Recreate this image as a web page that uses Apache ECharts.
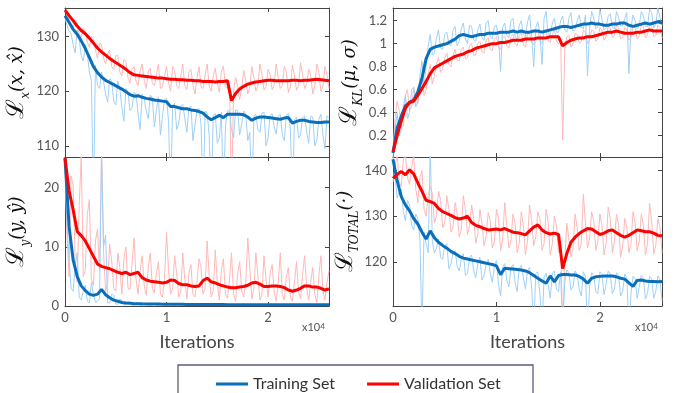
<!DOCTYPE html>
<html>
<head>
<meta charset="utf-8">
<script src="https://cdn.jsdelivr.net/npm/echarts@6/dist/echarts.min.js"></script>
<style>
  html, body { margin: 0; padding: 0; background: #fff; }
  #chart { width: 678px; height: 393px; }
</style>
</head>
<body>
<div id="chart"></div>
<script>
// iteration steps shared by every curve
const iters = [0,400,800,1200,1600,2000,2400,2800,3200,3600,
  4000,4400,4800,5200,5600,6000,6400,6800,7200,7600,
  8000,8400,8800,9200,9600,10000,10400,10800,11200,11600,
  12000,12400,12800,13200,13600,14000,14400,14800,15200,15600,
  16000,16400,16800,17200,17600,18000,18400,18800,19200,19600,
  20000,20400,20800,21200,21600,22000,22400,22800,23200,23600,
  24000,24400,24800,25200,25600,26000];
// in-between steps, used only by the raw (unsmoothed) curves
const itersMid = [200,600,1000,1400,1800,2200,2600,3000,3400,3800,
  4200,4600,5000,5400,5800,6200,6600,7000,7400,7800,
  8200,8600,9000,9400,9800,10200,10600,11000,11400,11800,
  12200,12600,13000,13400,13800,14200,14600,15000,15400,15800,
  16200,16600,17000,17400,17800,18200,18600,19000,19400,19800,
  20200,20600,21000,21400,21800,22200,22600,23000,23400,23800,
  24200,24600,25000,25400,25800];

// L_x(x, x^)
const lxTrain = [133.8,132.6,131.3,130.4,129.2,127.8,126.2,124.5,123.4,122.6,
  122.0,121.6,121.2,120.8,120.4,119.9,119.4,119.1,119.2,118.9,
  118.7,118.6,118.4,118.3,118.2,118.1,117.2,117.2,117.0,116.8,
  116.8,116.6,116.5,116.3,116.0,115.3,114.8,115.2,115.6,115.2,
  115.8,115.8,115.8,115.8,115.7,115.3,114.7,115.1,115.3,115.3,
  115.2,115.1,115.0,114.9,115.1,115.2,114.2,114.5,114.7,114.7,
  114.5,114.4,114.3,114.3,114.4,114.4];
const lxTrainRaw = [133.5,131.0,128.5,131.2,126.5,128.5,123.5,100,121.0,123.5,
  119.5,122.3,118.2,121.8,117.0,120.5,116.5,119.8,115.8,119.5,
  116.5,119.3,113.5,118.9,115.5,118.7,100,117.8,114.0,117.6,
  112.5,117.3,113.8,116.9,100,116.0,100,115.9,111.5,100,
  116.5,113.0,116.6,112.0,116.4,111.0,100,115.8,112.5,116.2,
  111.5,115.9,112.2,115.8,111.0,115.9,100,115.3,112.0,115.5,
  110.5,115.3,111.0,115.8,109.5,115.0];
const lxTrainRawMid = [132.0,130.5,127.0,129.5,125.5,126.8,122.0,124.8,120.5,121.8,
  118.0,121.9,117.5,120.5,114.5,119.8,117.0,119.5,113.0,118.6,
  115.0,118.8,116.5,112.0,118.5,114.5,117.4,113.0,117.2,115.0,
  117.0,111.0,116.6,114.0,116.4,112.0,115.6,110.5,116.2,113.5,
  116.4,111.5,116.5,114.0,115.9,112.5,115.5,113.0,116.0,110.0,
  115.6,113.5,115.5,112.0,115.7,113.0,114.8,111.5,115.2,112.5,
  115.4,110.0,114.9,112.0,115.5];
const lxVal = [134.8,133.8,132.9,131.9,131.1,130.5,129.7,128.8,127.9,127.2,
  126.6,126.0,125.5,125.0,124.5,124.0,123.4,123.0,122.9,122.8,
  122.7,122.6,122.5,122.4,122.4,122.3,122.2,122.2,122.1,122.1,
  122.0,122.0,121.9,121.9,121.8,121.8,121.8,121.7,121.8,121.8,
  121.9,118.3,119.6,120.4,120.9,121.3,121.5,121.7,121.8,121.9,
  122.0,122.0,121.9,121.9,121.9,121.9,122.0,122.0,121.9,122.0,
  122.0,122.1,122.2,122.1,122.0,121.9];
const lxValRaw = [134.5,133.0,131.5,132.5,129.8,131.0,128.0,129.5,126.0,128.5,
  125.0,127.5,124.0,126.5,122.8,125.5,121.5,124.5,121.0,125.0,
  120.5,124.2,121.0,125.0,120.8,124.5,120.0,123.8,120.5,125.0,
  120.3,124.0,119.5,124.5,120.5,125.0,120.0,124.2,119.8,124.6,
  120.5,100,122.5,118.5,123.8,119.5,124.5,120.0,125.0,120.2,
  124.0,120.3,125.0,120.5,124.5,119.8,124.8,120.2,125.2,120.5,
  124.0,119.5,125.0,120.0,124.5,120.5];
const lxValRawMid = [134.0,132.0,133.0,130.5,131.5,129.0,130.0,127.5,128.8,126.0,
  126.8,124.5,126.5,123.5,125.8,122.5,124.0,121.8,123.8,122.0,
  123.5,121.5,123.0,120.5,122.8,121.5,124.5,121.0,122.8,121.0,
  123.5,121.2,122.5,120.8,123.0,121.0,122.8,121.5,123.5,120.8,
  121.5,120.0,121.0,120.5,122.0,120.8,122.5,121.0,123.0,120.8,
  123.0,121.2,122.5,121.0,123.5,120.8,122.8,121.0,123.0,121.3,
  122.8,121.0,123.5,120.8,123.0];

// L_KL(mu, sigma)
const klTrain = [0.05,0.27,0.37,0.46,0.49,0.51,0.58,0.70,0.87,0.95,
  0.97,0.98,0.99,1.00,1.02,1.04,1.07,1.08,1.07,1.06,
  1.07,1.08,1.08,1.09,1.09,1.09,1.10,1.10,1.10,1.11,
  1.10,1.11,1.10,1.10,1.11,1.11,1.10,1.11,1.12,1.13,
  1.14,1.15,1.15,1.14,1.15,1.16,1.17,1.17,1.18,1.17,
  1.17,1.16,1.16,1.17,1.17,1.18,1.18,1.16,1.15,1.16,
  1.17,1.18,1.17,1.18,1.19,1.18];
const klTrainRaw = [0.02,0.40,0.25,0.55,0.40,0.62,0.50,0.85,0.80,1.08,
  0.92,1.12,0.95,1.10,0.98,1.15,1.02,1.18,1.00,1.15,
  1.02,1.17,1.03,1.20,1.04,1.16,0.76,1.18,1.05,1.22,
  1.04,1.20,1.06,1.25,0.80,1.19,0.82,1.28,1.08,1.22,
  1.10,1.24,1.10,1.27,1.12,1.25,1.13,0.72,1.28,1.13,
  1.30,1.12,1.24,1.14,1.28,1.15,1.22,0.74,1.25,1.13,
  1.28,1.15,1.30,1.14,1.31,1.16];
const klTrainRawMid = [0.25,0.20,0.45,0.35,0.60,0.45,0.72,0.62,0.98,0.90,
  1.05,0.96,1.08,1.00,1.12,0.98,1.13,1.04,1.16,1.03,
  1.12,1.05,1.18,1.06,1.15,1.04,1.14,1.07,1.20,1.06,
  1.16,1.08,1.19,1.07,1.14,1.09,1.22,1.08,1.18,1.10,
  1.20,1.12,1.22,1.11,1.20,1.14,1.25,1.13,1.22,1.15,
  1.21,1.14,1.26,1.13,1.23,1.16,1.27,1.14,1.20,1.16,
  1.24,1.15,1.27,1.17,1.23];
const klVal = [0.06,0.20,0.33,0.44,0.49,0.50,0.55,0.61,0.67,0.74,
  0.79,0.81,0.83,0.85,0.87,0.89,0.90,0.91,0.93,0.94,
  0.96,0.97,0.98,0.99,1.00,1.00,1.01,1.01,1.02,1.03,
  1.03,1.03,1.04,1.04,1.04,1.05,1.05,1.05,1.06,1.06,
  1.06,0.98,1.01,1.03,1.04,1.05,1.05,1.06,1.06,1.07,
  1.08,1.09,1.10,1.10,1.11,1.10,1.09,1.09,1.09,1.10,
  1.10,1.11,1.12,1.11,1.11,1.11];
const klValRaw = [0.05,0.50,0.30,0.55,0.42,0.62,0.48,0.70,0.60,0.82,
  0.72,0.88,0.78,0.92,0.80,0.95,0.85,0.97,0.88,1.00,
  0.90,1.02,0.92,1.05,0.94,1.06,0.95,1.07,0.96,1.08,
  0.98,1.10,0.97,1.09,0.99,1.11,1.00,1.10,1.01,1.12,
  1.00,0.16,1.06,0.97,1.09,1.00,1.12,1.00,1.12,1.02,
  1.14,1.03,1.15,1.05,1.16,1.04,1.14,1.03,1.15,1.04,
  1.16,1.05,1.17,1.06,1.16,1.05];
const klValRawMid = [0.35,0.42,0.28,0.60,0.45,0.50,0.62,0.55,0.74,0.65,
  0.82,0.75,0.87,0.82,0.90,0.86,0.95,0.87,0.98,0.90,
  1.00,0.93,1.03,0.95,1.04,0.97,1.05,0.98,1.06,1.00,
  1.07,0.99,1.08,1.01,1.09,1.02,1.10,1.03,1.08,1.02,
  1.04,0.95,1.07,1.00,1.08,1.02,1.10,1.03,1.11,1.04,
  1.12,1.06,1.13,1.07,1.14,1.06,1.12,1.05,1.14,1.07,
  1.15,1.08,1.15,1.07,1.14];

// L_y(y, y^)
const lyTrain = [25.0,13.5,7.8,5.0,3.4,2.6,2.0,1.8,2.0,2.8,
  1.9,1.4,1.0,0.8,0.6,0.5,0.45,0.4,0.38,0.36,
  0.35,0.34,0.33,0.32,0.31,0.30,0.30,0.29,0.28,0.28,
  0.27,0.27,0.26,0.26,0.25,0.25,0.25,0.24,0.24,0.24,
  0.23,0.23,0.23,0.22,0.22,0.22,0.22,0.21,0.21,0.21,
  0.21,0.2,0.2,0.2,0.2,0.2,0.2,0.2,0.2,0.2,
  0.2,0.2,0.2,0.2,0.2,0.2];
const lyTrainRaw = [24.0,8.0,2.5,9.0,1.0,3.5,0.5,2.0,0.8,26,
  12.0,0.5,1.8,0.3,1.0,0.2,0.6,0.1,0.5,0.1,
  0.4,0.1,0.4,0.1,0.3,0.1,0.4,0.1,0.3,0.1,
  0.3,0.1,0.3,0.1,0.3,0.1,0.3,0.1,0.3,0.1,
  0.3,0.1,0.3,0.1,0.3,0.1,0.3,0.1,0.3,0.1,
  0.3,0.1,0.3,0.1,0.3,0.1,0.3,0.1,0.3,0.1,
  0.3,0.1,0.3,0.1,0.3,0.1];
const lyTrainRawMid = [14.0,3.0,6.5,1.5,2.5,0.8,4.0,0.6,1.2,10.0,
  0.5,2.0,0.3,1.2,0.2,0.8,0.2,0.5,0.1,0.4,
  0.2,0.3,0.1,0.3,0.2,0.3,0.1,0.3,0.2,0.2,
  0.1,0.3,0.2,0.2,0.1,0.3,0.2,0.2,0.1,0.3,
  0.2,0.2,0.1,0.3,0.2,0.2,0.1,0.3,0.2,0.2,
  0.1,0.3,0.2,0.2,0.1,0.3,0.2,0.2,0.1,0.3,
  0.2,0.2,0.1,0.3,0.2];
const lyVal = [25.0,19.5,16.3,12.6,11.9,11.0,9.7,8.4,7.1,6.7,
  6.5,6.3,6.0,5.7,5.5,5.7,5.3,5.5,5.7,4.8,
  4.4,4.2,4.1,4.0,3.9,4.0,4.4,4.3,3.8,3.6,
  3.6,3.4,3.3,3.4,4.3,4.7,4.1,3.9,3.6,3.4,
  3.2,3.1,3.1,3.2,3.3,3.5,3.9,4.0,3.7,3.3,
  3.3,3.4,3.4,3.3,3.1,2.7,2.5,2.7,3.0,3.4,
  3.4,3.2,3.2,3.0,2.7,2.9];
const lyValRaw = [24.0,5.0,20.5,4.0,25.5,6.0,18.0,3.5,13.0,26,
  2.5,10.5,3.0,9.0,2.0,10.0,2.8,11.5,2.0,8.5,
  1.8,9.0,2.2,7.5,1.5,12.5,2.0,8.5,1.5,9.0,
  1.2,7.0,1.5,8.0,2.0,11.0,1.5,9.5,1.0,8.0,
  1.3,9.0,0.8,7.5,1.5,11.5,1.2,9.0,1.0,8.5,
  1.5,7.0,0.8,9.0,1.0,6.5,0.8,7.5,1.2,8.5,
  1.0,6.5,0.6,8.5,1.0,6.0];
const lyValRawMid = [12.0,22.0,8.0,17.0,5.0,15.5,4.5,11.0,6.0,9.0,
  4.0,7.5,2.5,6.5,8.0,3.0,7.0,4.5,6.0,3.5,
  6.5,3.0,5.5,2.0,4.5,6.0,3.0,5.5,2.5,4.5,
  5.5,2.0,4.0,6.5,3.0,5.0,2.5,4.0,6.0,2.0,
  4.5,2.0,5.5,2.5,4.0,6.5,3.0,5.0,2.0,4.5,
  5.5,2.5,4.0,2.0,5.0,1.5,4.0,2.5,5.5,3.0,
  4.0,2.0,5.0,2.5,4.0];

// L_TOTAL
const totTrain = [142.5,137.8,134.3,132.5,131.2,129.5,128.3,126.5,125.0,126.8,
  125.3,124.3,123.6,123.0,122.3,121.8,121.2,120.8,120.6,120.4,
  120.2,120.0,119.8,119.6,119.4,119.1,117.2,118.6,118.5,118.4,
  118.3,118.2,118.0,117.6,117.0,116.4,115.8,115.3,116.9,115.6,
  117.0,117.2,117.2,117.1,117.1,116.8,116.2,115.3,116.4,116.7,
  116.8,116.9,116.9,116.9,116.7,116.4,116.2,115.4,114.6,115.9,
  116.0,115.8,115.7,115.7,115.6,115.7];
const totTrainRaw = [143.5,134.0,136.0,129.0,132.5,127.0,129.5,105,124.0,145,
  122.0,125.0,120.5,124.0,119.5,122.5,118.0,121.8,117.5,121.5,
  116.5,121.0,117.0,120.6,115.5,120.3,112.5,119.6,114.5,119.4,
  113.5,119.2,114.0,118.8,105,117.8,105,117.5,112.0,118.0,
  113.5,105,118.2,113.8,118.0,114.0,117.8,105,117.6,113.5,
  117.8,112.8,118.0,113.0,117.6,112.5,117.3,105,116.8,112.0,
  117.0,111.8,116.8,112.0,116.9,111.5];
const totTrainRawMid = [139.0,135.5,131.0,133.5,128.0,130.5,125.0,126.5,122.0,124.5,
  123.0,121.0,123.5,118.5,122.0,119.0,120.5,117.0,120.9,118.0,
  119.8,116.0,119.5,117.5,119.0,115.0,118.8,116.0,118.7,115.5,
  118.5,116.5,118.0,114.5,117.5,113.0,116.5,115.0,117.5,114.0,
  117.8,115.5,117.6,114.5,117.2,112.5,116.8,114.5,117.0,113.0,
  117.2,115.0,117.3,114.0,117.0,113.5,116.5,113.0,116.4,114.5,
  116.4,113.0,116.3,113.5,116.2];
const totVal = [138.3,139.2,139.8,139.1,140.2,139.3,137.3,135.5,133.5,133.2,
  132.8,131.7,131.0,130.6,130.2,129.7,129.4,129.6,130.0,128.6,
  128.0,127.7,127.3,127.0,127.1,127.2,127.0,127.3,126.9,126.5,
  126.4,126.2,125.9,126.8,127.6,128.1,127.0,126.4,126.1,126.3,
  126.0,118.5,121.8,124.3,125.4,126.2,126.8,127.3,127.2,126.6,
  126.0,126.3,126.8,127.0,126.4,125.8,125.4,125.8,126.4,127.0,
  126.8,126.6,126.6,126.3,125.8,125.7];
const totValRaw = [137.5,143.5,136.5,143.5,137.0,143.5,133.0,140.0,130.0,136.5,
  128.5,135.5,127.5,134.5,126.5,133.0,125.5,134.5,126.0,132.5,
  124.0,131.5,123.5,130.8,123.0,131.5,122.5,133.0,123.0,130.5,
  122.0,131.0,121.5,132.5,123.5,131.0,122.5,131.5,121.5,130.0,
  122.0,105,128.5,121.0,130.5,122.5,134.8,123.0,131.0,122.5,
  130.5,121.5,132.0,122.0,130.5,121.0,129.5,122.0,131.0,122.5,
  130.5,121.5,132.8,121.8,129.5,122.0];
const totValRawMid = [141.0,137.5,142.5,138.5,140.5,136.0,138.5,131.5,134.5,135.0,
  130.0,133.5,128.5,131.5,127.5,130.5,127.0,131.5,128.0,129.5,
  126.0,128.5,125.5,129.0,124.5,129.5,125.0,128.0,124.5,128.5,
  124.0,128.0,124.5,129.0,125.5,129.5,124.0,128.5,124.0,128.0,
  124.5,120.0,125.0,123.0,127.5,124.0,128.5,125.0,129.0,124.5,
  128.0,124.0,129.5,124.5,128.0,123.5,127.5,124.0,128.5,124.5,
  128.0,124.0,129.0,123.5,127.5];

// tick labels
const xTicks = ['0', '1', '2'];
const lxTicks = [110, 120, 130];
const klTicks = [0.2, 0.4, 0.6, 0.8, 1, 1.2];
const lyTicks = [0, 10, 20];
const totTicks = [120, 130, 140];

const blue = '#0a6fba', red = '#ff0000';
const lightBlue = '#9fd0f7', lightRed = '#ffb8b8';
const axisColor = '#444';
const font = 'Lato, "DejaVu Sans", sans-serif';

const nameRich = {
  L: { fontFamily: 'DejaVu Serif', fontSize: 24, lineHeight: 30, color: '#111' },
  s: { fontFamily: 'DejaVu Serif', fontStyle: 'italic', fontSize: 12, lineHeight: 30, verticalAlign: 'bottom', color: '#111' },
  p: { fontFamily: 'DejaVu Serif', fontStyle: 'italic', fontSize: 18, lineHeight: 30, color: '#111' }
};

const panels = [
  { grid: { left: 65, top: 8, width: 264, height: 149 }, min: 108, max: 135.2, ticks: lxTicks,
    name: '{L|ℒ}{s|x}{p|(x, x̂)}', gap: 33, bottom: false,
    train: lxTrain, trainRaw: [lxTrainRaw, lxTrainRawMid], val: lxVal, valRaw: [lxValRaw, lxValRawMid] },
  { grid: { left: 393, top: 8, width: 269, height: 149 }, min: 0.015, max: 1.31, ticks: klTicks,
    name: '{L|ℒ}{s|KL}{p|(μ, σ)}', gap: 28, bottom: false,
    train: klTrain, trainRaw: [klTrainRaw, klTrainRawMid], val: klVal, valRaw: [klValRaw, klValRawMid] },
  { grid: { left: 65, top: 157, width: 264, height: 149 }, min: 0, max: 25.2, ticks: lyTicks,
    name: '{L|ℒ}{s|y}{p|(y, ŷ)}', gap: 33, bottom: true,
    train: lyTrain, trainRaw: [lyTrainRaw, lyTrainRawMid], val: lyVal, valRaw: [lyValRaw, lyValRawMid] },
  { grid: { left: 393, top: 157, width: 269, height: 149 }, min: 110.3, max: 143, ticks: totTicks,
    name: '{L|ℒ}{s|TOTAL}{p|(·)}', gap: 28, bottom: true,
    train: totTrain, trainRaw: [totTrainRaw, totTrainRawMid], val: totVal, valRaw: [totValRaw, totValRawMid] }
];

const pair = vals => iters.map((x, i) => [x, vals[i]]);
// raw curve: main steps plus the in-between steps, in iteration order
const rawPairs = ([main, mid]) => pair(main)
  .concat(itersMid.map((x, i) => [x, mid[i]]))
  .sort((a, b) => a[0] - b[0]);

const grids = [], xAxes = [], yAxes = [], series = [];
panels.forEach((p, i) => {
  grids.push(p.grid);
  const xBase = {
    gridIndex: i, type: 'value', min: 0, max: 26000, interval: 10000,
    splitLine: { show: false },
    axisLine: { show: true, onZero: false, lineStyle: { color: axisColor } },
    axisTick: { inside: true, length: 4, lineStyle: { color: axisColor } }
  };
  xAxes.push(Object.assign({}, xBase, {
    position: 'bottom',
    axisLabel: {
      show: p.bottom, color: '#555', fontSize: 13, fontFamily: font, margin: 5,
      formatter: v => xTicks[Math.round(v / 10000)] ?? ''
    },
    name: p.bottom ? 'Iterations' : '', nameLocation: 'middle', nameGap: 27,
    nameTextStyle: { fontSize: 18, color: '#444', fontFamily: font }
  }));
  xAxes.push(Object.assign({}, xBase, { position: 'top', axisLabel: { show: false } }));

  const yBase = {
    gridIndex: i, type: 'value', min: p.min, max: p.max,
    splitLine: { show: false },
    axisLine: { show: true, onZero: false, lineStyle: { color: axisColor } },
    axisTick: { inside: true, length: 4, customValues: p.ticks, lineStyle: { color: axisColor } }
  };
  yAxes.push(Object.assign({}, yBase, {
    position: 'left',
    axisLabel: { customValues: p.ticks, color: '#555', fontSize: 13, fontFamily: font, margin: 6 },
    name: p.name, nameLocation: 'middle', nameRotate: 90, nameGap: p.gap,
    nameTextStyle: { rich: nameRich }
  }));
  yAxes.push(Object.assign({}, yBase, { position: 'right', axisLabel: { show: false } }));

  const common = { type: 'line', xAxisIndex: 2 * i, yAxisIndex: 2 * i, symbol: 'none', silent: true, animation: false };
  series.push(Object.assign({}, common, { name: 'Validation raw', data: rawPairs(p.valRaw), lineStyle: { width: 1, color: lightRed }, itemStyle: { color: lightRed } }));
  series.push(Object.assign({}, common, { name: 'Training raw', data: rawPairs(p.trainRaw), lineStyle: { width: 1, color: lightBlue }, itemStyle: { color: lightBlue } }));
  series.push(Object.assign({}, common, { name: 'Training Set', data: pair(p.train), lineStyle: { width: 3, color: blue }, itemStyle: { color: blue } }));
  series.push(Object.assign({}, common, { name: 'Validation Set', data: pair(p.val), lineStyle: { width: 3, color: red }, itemStyle: { color: red } }));
});

const chart = echarts.init(document.getElementById('chart'));
chart.setOption({
  animation: false,
  grid: grids,
  xAxis: xAxes,
  yAxis: yAxes,
  series: series,
  legend: {
    data: ['Training Set', 'Validation Set'],
    left: 211, top: 371,
    icon: 'rect', itemWidth: 32, itemHeight: 3, itemGap: 32,
    textStyle: { fontSize: 16, color: '#333', fontFamily: font }
  },
  graphic: [
    { type: 'rect', shape: { x: 178, y: 365, width: 355, height: 40 },
      style: { fill: 'none', stroke: '#5a5c78', lineWidth: 1.3 }, silent: true },
    { type: 'text', left: 302, top: 322,
      style: { text: '{a|x10}{b|4}', rich: { a: { fontSize: 11, fontFamily: font, fill: '#555' }, b: { fontSize: 8, fontFamily: font, fill: '#555', verticalAlign: 'top' } } } },
    { type: 'text', left: 635, top: 322,
      style: { text: '{a|x10}{b|4}', rich: { a: { fontSize: 11, fontFamily: font, fill: '#555' }, b: { fontSize: 8, fontFamily: font, fill: '#555', verticalAlign: 'top' } } } }
  ]
});
</script>
</body>
</html>
